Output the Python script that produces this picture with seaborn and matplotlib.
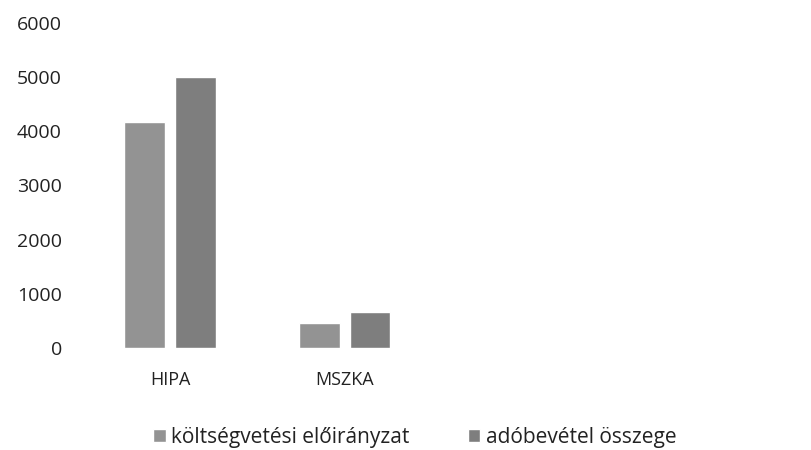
import matplotlib.pyplot as plt
import seaborn as sns
import pandas as pd

sns.set_style("white")
plt.rcParams["font.family"] = ["Open Sans", "DejaVu Sans"]

categories = ["HIPA", "MSZKA"]
series = ["költségvetési előirányzat", "adóbevétel összege"]
eloiranyzat = [4180, 460]
adobevetel = [5000, 665]

df = pd.DataFrame({
    "kat": categories * 2,
    "sorozat": [series[0]] * 2 + [series[1]] * 2,
    "ertek": eloiranyzat + adobevetel,
})

fig = plt.figure(figsize=(8.11, 4.5), dpi=100)
ax = fig.add_axes([0.102, 0.227, 0.862, 0.722])

sns.barplot(data=df, x="kat", y="ertek", hue="sorozat", hue_order=series,
            palette=["#939393", "#7e7e7e"], width=0.58, gap=0.2,
            saturation=1, ax=ax, legend=True)

ax.set_xlim(-0.5, 3.5)
ax.set_ylim(0, 6000)
ax.set_yticks(range(0, 6001, 1000))
ax.set_xlabel("")
ax.set_ylabel("")
sns.despine(ax=ax, left=True, bottom=True)
ax.tick_params(axis="y", length=0, pad=15, labelsize=14, labelcolor="#222222")
ax.tick_params(axis="x", length=0, pad=17, labelsize=13, labelcolor="#222222")

ax.legend(loc="upper center", bbox_to_anchor=(0.475, -0.185), ncol=2, frameon=False,
          fontsize=15, handlelength=0.6, handleheight=0.6, handletextpad=0.25,
          columnspacing=2.8, labelcolor="#222222")

fig.savefig("out.png", dpi=100)
